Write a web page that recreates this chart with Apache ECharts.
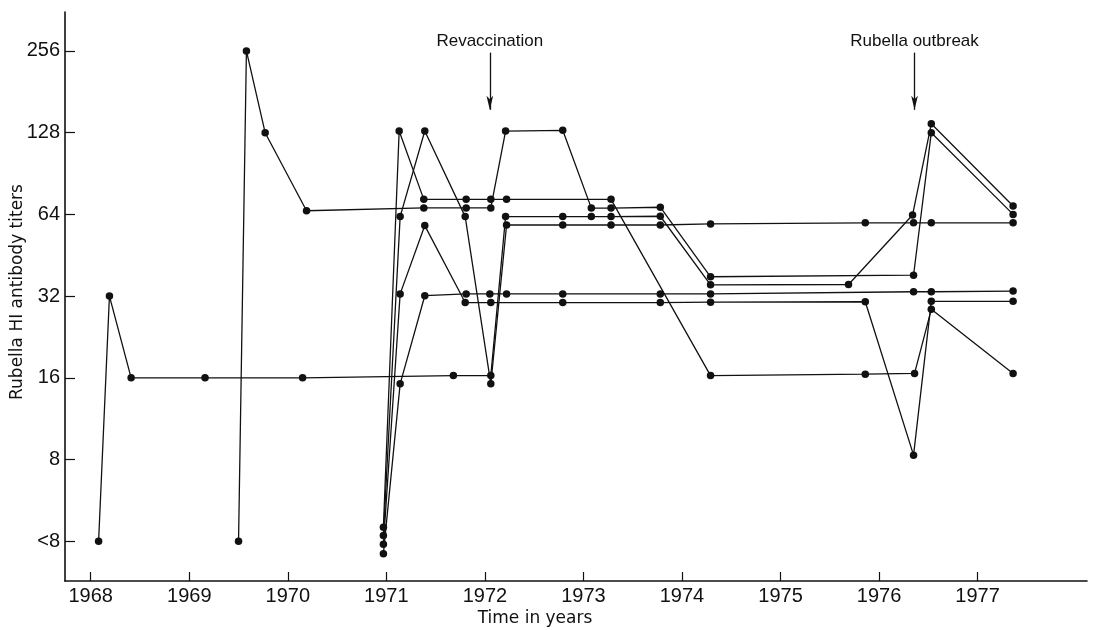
<!DOCTYPE html>
<html lang="en" style="height: 100%">
<head>
  <meta charset="utf-8">
  <title>Rubella HI antibody titers</title>
</head>
<body style="height: 100%; margin: 0; background: #fff">
  <div id="container" style="width: 1107px; height: 630px"></div>
  <script src="https://cdn.jsdelivr.net/npm/echarts@6/dist/echarts.min.js"></script>
  <script>
    // one pair of arrays per subject: time of sample and HI titer (<8 plotted as 4)
    var p1Years = [1968.08, 1968.19, 1968.41, 1969.16, 1970.15, 1971.68, 1972.06, 1972.21, 1972.79, 1973.08, 1973.28, 1973.78, 1974.29, 1975.69, 1976.34, 1976.53, 1977.36];
    var p1Titers = [4, 32, 16, 16, 16, 16.3, 16.3, 62.8, 62.8, 62.8, 62.8, 63, 35.2, 35.3, 63.7, 138, 68.7];

    var p2Years = [1969.50, 1969.58, 1969.77, 1970.19, 1971.38, 1971.81, 1972.06, 1972.21, 1972.79, 1973.08, 1973.28, 1973.78, 1974.29, 1976.35, 1976.53, 1977.36];
    var p2Titers = [4, 256, 128, 66, 67.6, 67.6, 67.6, 129.8, 130.6, 67.5, 67.5, 68, 37.7, 38.2, 128, 64];

    var p3Years = [1970.97, 1971.13, 1971.38, 1971.81, 1972.06, 1972.22, 1973.28, 1974.29, 1975.86, 1976.36, 1976.53, 1977.36];
    var p3Titers = [4.5, 129.8, 72.7, 72.7, 72.7, 72.7, 72.7, 16.3, 16.5, 16.6, 28.6, 16.6];

    var p4Years = [1970.97, 1971.14, 1971.39, 1971.80, 1972.06, 1972.22, 1972.79, 1973.28, 1973.78, 1974.29, 1975.86, 1976.35, 1976.53, 1977.36];
    var p4Titers = [4.2, 62.8, 129.8, 62.8, 15.2, 58.5, 58.5, 58.5, 58.5, 59, 59.6, 59.6, 59.6, 59.6];

    var p5Years = [1970.97, 1971.14, 1971.39, 1971.80, 1972.06, 1972.79, 1973.78, 1974.29, 1975.86, 1976.35, 1976.53, 1977.36];
    var p5Titers = [3.9, 32.6, 58.2, 30.3, 30.3, 30.3, 30.3, 30.4, 30.5, 8.3, 30.6, 30.6];

    var p6Years = [1970.97, 1971.14, 1971.39, 1971.81, 1972.05, 1972.22, 1972.79, 1973.78, 1974.29, 1976.35, 1976.53, 1977.36];
    var p6Titers = [3.6, 15.2, 32.1, 32.6, 32.6, 32.6, 32.6, 32.6, 32.6, 33.2, 33.2, 33.4];

    var yearTicks = [1968, 1969, 1970, 1971, 1972, 1973, 1974, 1975, 1976, 1977];
    var titerTicks = [4, 8, 16, 32, 64, 128, 256];
    var titerLabels = ['<8', '8', '16', '32', '64', '128', '256'];

    var eventYears = [1972.05, 1976.36];
    var eventLabels = ['Revaccination', 'Rubella outbreak'];

    var subjects = [
      [p1Years, p1Titers],
      [p2Years, p2Titers],
      [p3Years, p3Titers],
      [p4Years, p4Titers],
      [p5Years, p5Titers],
      [p6Years, p6Titers]
    ];

    var ink = '#111';
    var tickFont = '"Liberation Sans", Arial, sans-serif';
    var titleFont = '"DejaVu Sans", sans-serif';

    // y axis is log2 of the titer
    var tickLogs = titerTicks.map(function (t) { return Math.log2(t); });

    var series = subjects.map(function (s, i) {
      return {
        name: 'subject ' + (i + 1),
        type: 'line',
        data: s[0].map(function (yr, j) { return [yr, Math.log2(s[1][j])]; }),
        symbol: 'circle',
        symbolSize: 7.5,
        showSymbol: true,
        itemStyle: { color: ink },
        lineStyle: { color: ink, width: 1.3 },
        z: 3
      };
    });

    series.push({
      name: 'events',
      type: 'line',
      data: [],
      markLine: {
        silent: true,
        symbol: ['none', 'arrow'],
        symbolSize: [5, 14],
        lineStyle: { color: ink, width: 1.3, type: 'solid' },
        label: {
          show: true,
          position: 'start',
          distance: 3,
          color: ink,
          fontSize: 17,
          fontFamily: tickFont,
          formatter: function (p) { return p.name; }
        },
        data: eventYears.map(function (yr, i) {
          return [
            { name: eventLabels[i], coord: [yr, 7.98] },
            { coord: [yr, 7.28] }
          ];
        })
      }
    });

    var chart = echarts.init(document.getElementById('container'), null, { renderer: 'canvas' });

    var option = {
      animation: false,
      backgroundColor: '#fff',
      grid: { left: 65, right: 20, top: 12, bottom: 49, containLabel: false },
      xAxis: {
        type: 'value',
        min: 1967.739,
        max: 1978.11,
        axisLine: { show: true, lineStyle: { color: ink, width: 1.6 } },
        axisTick: { show: true, inside: true, length: 9, customValues: yearTicks, lineStyle: { color: ink, width: 1.2 } },
        axisLabel: {
          customValues: yearTicks,
          margin: 5,
          color: ink,
          fontSize: 20,
          fontFamily: tickFont,
          formatter: function (v) { return String(Math.round(v)); }
        },
        splitLine: { show: false }
      },
      yAxis: {
        type: 'value',
        min: 1.513,
        max: 8.477,
        axisLine: { show: true, lineStyle: { color: ink, width: 1.6 } },
        axisTick: { show: true, inside: true, length: 10, customValues: tickLogs, lineStyle: { color: ink, width: 1.2 } },
        axisLabel: {
          customValues: tickLogs,
          margin: 5,
          color: ink,
          fontSize: 20,
          fontFamily: tickFont,
          formatter: function (v) {
            var i = tickLogs.indexOf(Math.round(v));
            return i >= 0 ? titerLabels[i] : '';
          }
        },
        splitLine: { show: false }
      },
      graphic: [
        {
          type: 'text',
          x: 18,
          y: 292,
          rotation: Math.PI / 2,
          style: {
            text: 'Rubella HI antibody titers',
            fill: ink,
            font: '17px ' + titleFont,
            align: 'center',
            verticalAlign: 'middle'
          }
        },
        {
          type: 'text',
          x: 535,
          y: 619,
          style: {
            text: 'Time in years',
            fill: ink,
            font: '17px ' + titleFont,
            align: 'center',
            verticalAlign: 'middle'
          }
        }
      ],
      series: series
    };

    chart.setOption(option);
    window.addEventListener('resize', chart.resize);
  </script>
</body>
</html>
